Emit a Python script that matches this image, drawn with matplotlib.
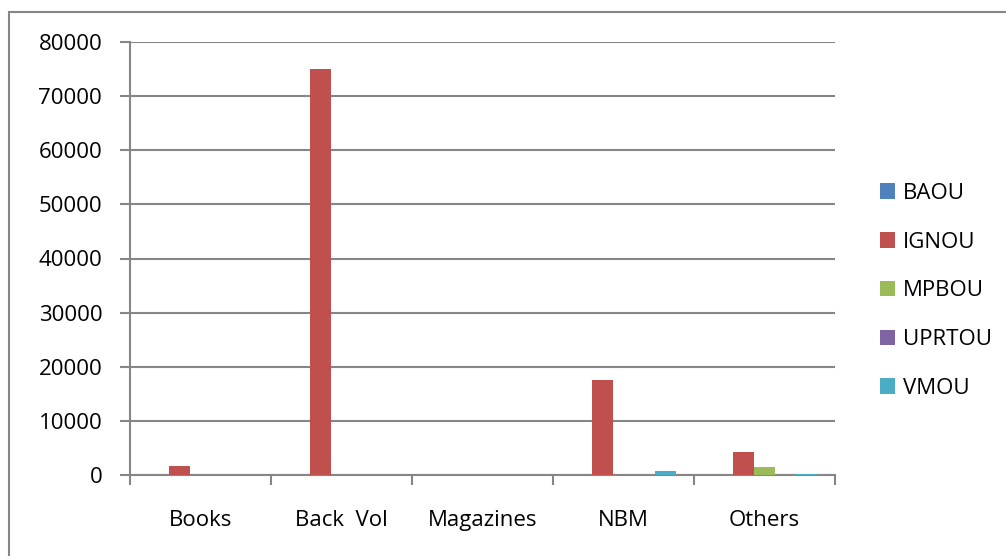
import matplotlib
matplotlib.use("Agg")
import matplotlib.pyplot as plt
from matplotlib.patches import Rectangle
import numpy as np

categories = ["Books", "Back  Vol", "Magazines", "NBM", "Others"]
series_names = ["BAOU", "IGNOU", "MPBOU", "UPRTOU", "VMOU"]
baou = [0, 0, 0, 0, 0]
ignou = [1700, 75000, 0, 17500, 4300]
mpbou = [0, 0, 0, 0, 1550]
uprtou = [0, 0, 0, 0, 0]
vmou = [0, 0, 0, 800, 220]
y_ticks = [0, 10000, 20000, 30000, 40000, 50000, 60000, 70000, 80000]
colors = ["#4F81BD", "#C0504D", "#9BBB59", "#8064A2", "#4BACC6"]

series = [baou, ignou, mpbou, uprtou, vmou]

plt.rcParams['font.family'] = ['Open Sans', 'DejaVu Sans']
FS = 16

W, H = 1006, 556
fig = plt.figure(figsize=(W / 100, H / 100), dpi=100)
ax = fig.add_axes([130 / W, (H - 475) / H, 705 / W, 433 / H])

# outer chart border
fig.patches.append(Rectangle((9 / W, -0.1), 1.2, (H - 12) / H + 0.1,
                             transform=fig.transFigure, fill=False,
                             edgecolor="#868686", linewidth=1.5))

x = np.arange(len(categories))
bw = 0.149
for k, (name, vals, c) in enumerate(zip(series_names, series, colors)):
    ax.bar(x + (k - 2) * bw, vals, width=bw, color=c, label=name,
           edgecolor="none", zorder=3)

ax.set_xlim(-0.5, len(categories) - 0.5)
ax.set_ylim(0, 80000)
ax.set_yticks(y_ticks)
ax.set_yticklabels([str(v) for v in y_ticks], fontsize=FS)
ax.yaxis.grid(True, color="#868686", linewidth=1.5, zorder=0)
ax.set_axisbelow(True)

# x ticks: boundaries major (no labels), centers minor with labels
ax.set_xticks(np.arange(-0.5, len(categories), 1.0))
ax.set_xticklabels([])
ax.set_xticks(x, minor=True)
ax.set_xticklabels(categories, minor=True, fontsize=FS)
ax.tick_params(axis='x', which='major', length=7, width=1.5, color="#868686", direction='out')
ax.tick_params(axis='x', which='minor', length=0, pad=25)
ax.tick_params(axis='y', length=7, width=1.5, color="#868686", pad=13)

for s in ["top", "right"]:
    ax.spines[s].set_visible(False)
for s in ["left", "bottom"]:
    ax.spines[s].set_color("#868686")
    ax.spines[s].set_linewidth(1.5)

leg = ax.legend(loc="upper left", bbox_to_anchor=(871 / W, (H - 174) / H),
                bbox_transform=fig.transFigure, frameon=False, fontsize=FS,
                handlelength=0.7, handleheight=0.7, handletextpad=0.35,
                labelspacing=1.25, borderaxespad=0)

fig.savefig("out.png", dpi=100)
